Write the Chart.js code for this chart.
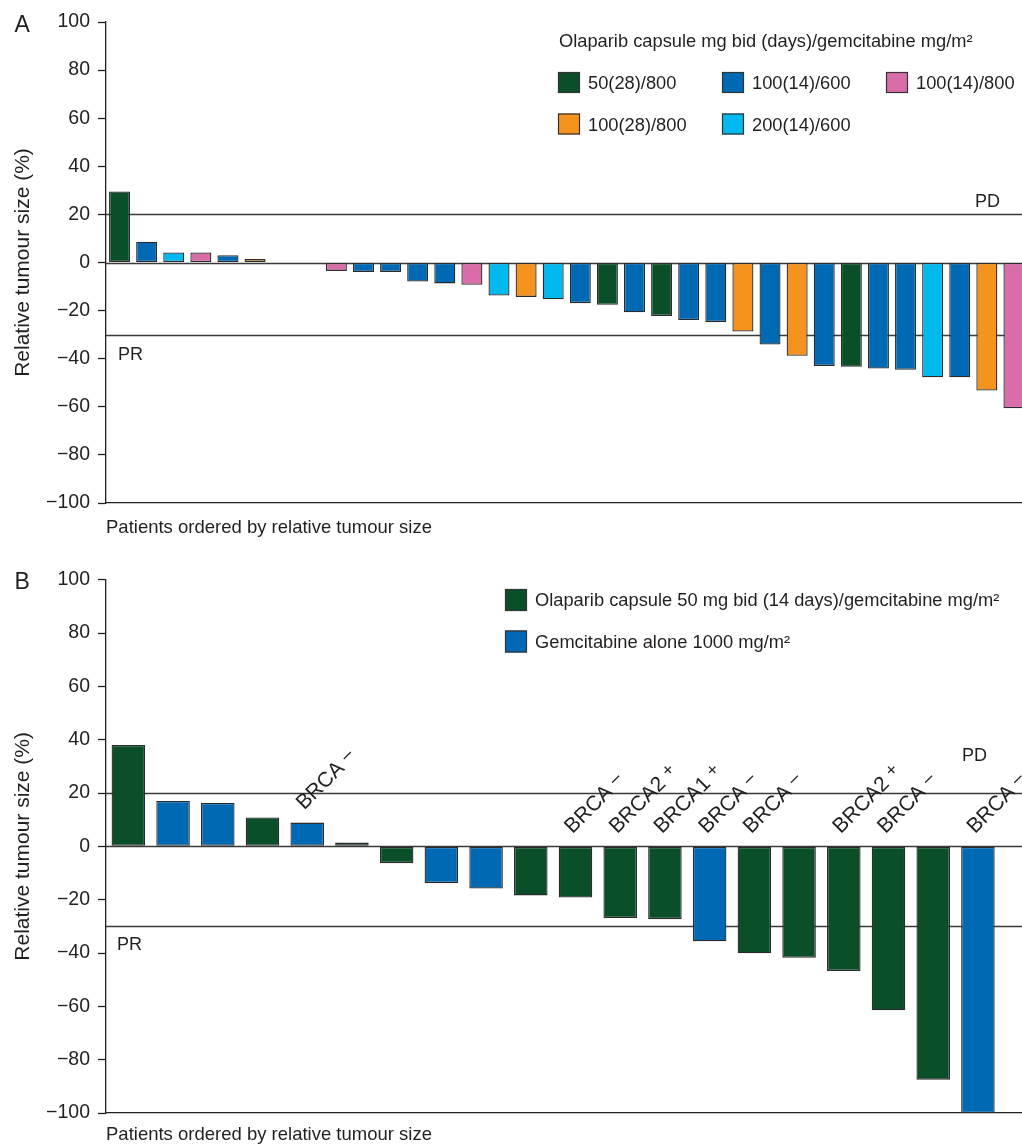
<!DOCTYPE html>
<html>
<head>
<meta charset="utf-8">
<script src="https://cdn.jsdelivr.net/npm/chart.js@4/dist/chart.umd.min.js"></script>
<style>
  html, body { margin: 0; padding: 0; background: #fff; overflow: hidden; }
  #wrap { position: relative; width: 1022px; height: 1146px; overflow: hidden; background: #fff; }
  canvas { position: absolute; left: 0; }
</style>
</head>
<body>
<div id="wrap">
  <canvas id="cA" width="1060" height="560" style="top:0px"></canvas>
  <canvas id="cB" width="1060" height="586" style="top:560px"></canvas>
</div>
<script>
// ---------------- DATA ----------------
// Panel A: relative tumour size (%) per patient, ordered; null = no visible bar
const valuesA = [29.5, 8.6, 4.2, 4.2, 3.0, 1.5, null, null, -3.5, -3.9, -3.9, -7.9, -8.7, -9.3,
  -13.7, -14.3, -15.3, -16.9, -17.6, -20.7, -22.2, -23.9, -24.8, -28.7, -34.1, -38.8, -43.0,
  -43.3, -44.1, -44.6, -47.7, -47.7, -53.2, -60.6];
const doseA = ['50(28)/800', '100(14)/600', '200(14)/600', '100(14)/800', '100(14)/600', '100(28)/800',
  null, null, '100(14)/800', '100(14)/600', '100(14)/600', '100(14)/600', '100(14)/600', '100(14)/800',
  '200(14)/600', '100(28)/800', '200(14)/600', '100(14)/600', '50(28)/800', '100(14)/600', '50(28)/800',
  '100(14)/600', '100(14)/600', '100(28)/800', '100(14)/600', '100(28)/800', '100(14)/600', '50(28)/800',
  '100(14)/600', '100(14)/600', '200(14)/600', '100(14)/600', '100(28)/800', '100(14)/800'];
const groupsA = ['50(28)/800', '100(14)/600', '100(14)/800', '100(28)/800', '200(14)/600'];
const colorsA = ['#0b4f29', '#0069b4', '#d96daa', '#f6931e', '#00b9ef'];
const legendTitleA = 'Olaparib capsule mg bid (days)/gemcitabine mg/m\u00B2';

// Panel B
const valuesB = [38.0, 17.0, 16.3, 10.8, 8.9, 1.4, -6.3, -13.8, -15.8, -18.4, -19.2, -26.9, -27.3,
  -35.6, -40.1, -41.8, -46.7, -61.5, -87.5, -100];
const treatB = ['ola', 'gem', 'gem', 'ola', 'gem', 'ola', 'ola', 'gem', 'gem', 'ola', 'ola', 'ola', 'ola',
  'gem', 'ola', 'ola', 'ola', 'ola', 'ola', 'gem'];
const brcaB = [null, null, null, null, 'BRCA \u2013', null, null, null, null, null, 'BRCA \u2013', 'BRCA2 +',
  'BRCA1 +', 'BRCA \u2013', 'BRCA \u2013', null, 'BRCA2 +', 'BRCA \u2013', null, 'BRCA \u2013'];
const groupsB = ['ola', 'gem'];
const groupNamesB = ['Olaparib capsule 50 mg bid (14 days)/gemcitabine mg/m\u00B2', 'Gemcitabine alone 1000 mg/m\u00B2'];
const colorsB = ['#0b4f29', '#0069b4'];

const yTicks = [-100, -80, -60, -40, -20, 0, 20, 40, 60, 80, 100];
const yTitle = 'Relative tumour size (%)';
const xTitle = 'Patients ordered by relative tumour size';
const pdValue = 20, prValue = -30;

// ---------------- STYLE ----------------
const FONT = '"Liberation Sans", Arial, Helvetica, sans-serif';
const TXT = '#231f20';
const AX = '#231f20';
Chart.defaults.font.family = FONT;
Chart.defaults.color = TXT;

function buildDatasets(values, groupOf, groups, colors) {
  return groups.map((g, gi) => ({
    label: g,
    data: values.map((v, i) => (groupOf[i] === g ? v : null)),
    backgroundColor: colors[gi],
    borderColor: '#2b2b2b',
    borderWidth: 1.3,
    borderSkipped: false,
    categoryPercentage: 1.0
  }));
}

const refLines = {
  id: 'refLines',
  beforeDatasetsDraw(chart, args, o) {
    const { ctx, chartArea: ca, scales: { y } } = chart;
    ctx.save();
    ctx.strokeStyle = '#3a3a3a';
    ctx.lineWidth = 1.3;
    [pdValue, 0, prValue].forEach(v => {
      const py = Math.round(y.getPixelForValue(v)) + 0.5;
      ctx.beginPath(); ctx.moveTo(ca.left, py); ctx.lineTo(ca.right, py); ctx.stroke();
    });
    ctx.fillStyle = TXT;
    ctx.font = '18px ' + FONT;
    ctx.textBaseline = 'alphabetic';
    ctx.textAlign = 'right';
    ctx.fillText('PD', o.pdX, y.getPixelForValue(pdValue) + o.pdDy);
    ctx.textAlign = 'left';
    ctx.fillText('PR', o.prX, y.getPixelForValue(prValue) + o.prDy);
    ctx.restore();
  },
  afterDraw(chart, args, o) {
    const { ctx } = chart;
    ctx.save();
    ctx.fillStyle = TXT;
    ctx.font = '23px ' + FONT;
    ctx.textBaseline = 'alphabetic';
    ctx.textAlign = 'left';
    ctx.fillText(o.letter, 14.5, o.letterY);
    ctx.restore();
  }
};

const legendA = {
  id: 'legendA',
  afterDraw(chart) {
    const { ctx } = chart;
    ctx.save();
    ctx.fillStyle = TXT;
    ctx.font = '18.3px ' + FONT;
    ctx.textBaseline = 'alphabetic';
    ctx.textAlign = 'left';
    ctx.fillText(legendTitleA, 559, 47);
    const cols = [558, 722, 886], rows = [72, 113.5];
    chart.data.datasets.forEach((ds, i) => {
      const bx = cols[i % 3], by = rows[Math.floor(i / 3)];
      ctx.fillStyle = ds.backgroundColor;
      ctx.fillRect(bx, by, 22, 21);
      ctx.strokeStyle = '#333'; ctx.lineWidth = 1.2;
      ctx.strokeRect(bx + 0.5, by + 0.5, 21, 20);
      ctx.fillStyle = TXT;
      ctx.fillText(ds.label, bx + 30, by + 17);
    });
    ctx.restore();
  }
};

const legendB = {
  id: 'legendB',
  afterDraw(chart) {
    const { ctx } = chart;
    ctx.save();
    ctx.font = '18.3px ' + FONT;
    ctx.textBaseline = 'alphabetic';
    ctx.textAlign = 'left';
    const rows = [29, 70.5];
    chart.data.datasets.forEach((ds, i) => {
      const bx = 505, by = rows[i];
      ctx.fillStyle = ds.backgroundColor;
      ctx.fillRect(bx, by, 22, 22);
      ctx.strokeStyle = '#333'; ctx.lineWidth = 1.2;
      ctx.strokeRect(bx + 0.5, by + 0.5, 21, 21);
      ctx.fillStyle = TXT;
      ctx.fillText(groupNamesB[i], 535, by + 17);
    });
    ctx.restore();
  }
};

const brcaLabels = {
  id: 'brcaLabels',
  afterDatasetsDraw(chart) {
    const { ctx, scales: { x, y } } = chart;
    ctx.save();
    ctx.fillStyle = TXT;
    ctx.textBaseline = 'alphabetic';
    ctx.textAlign = 'left';
    brcaB.forEach((lab, i) => {
      if (!lab) return;
      const [gene, sign] = lab.split(' ');
      const xc = x.getPixelForValue(i);
      const yt = y.getPixelForValue(Math.max(valuesB[i], 0));
      ctx.save();
      ctx.translate(xc - 3, yt - 12);
      ctx.rotate(-Math.PI / 4);
      ctx.font = '21px ' + FONT;
      ctx.fillText(gene, 0, 0);
      const w = ctx.measureText(gene).width;
      ctx.font = '18px ' + FONT;
      ctx.fillText(sign, w + 6, -4);
      ctx.restore();
    });
    ctx.restore();
  }
};

function makeOptions(cfg) {
  return {
    responsive: false,
    animation: false,
    devicePixelRatio: 1,
    layout: { padding: { left: 0, top: cfg.top, right: cfg.right, bottom: 0 } },
    plugins: {
      legend: { display: false },
      tooltip: { enabled: false },
      refLines: cfg.ref
    },
    datasets: { bar: { barPercentage: cfg.barPct, categoryPercentage: 1.0 } },
    scales: {
      x: {
        stacked: true,
        offset: true,
        grid: { display: false },
        ticks: { display: false },
        border: { display: true, color: AX, width: 1.3 },
        title: {
          display: true, text: xTitle, align: 'start',
          font: { size: 18.5, family: FONT }, color: TXT,
          padding: { top: 0, bottom: cfg.xTitlePad }
        },
        afterFit(s) { s.height = cfg.xHeight; }
      },
      y: {
        stacked: true,
        min: -100, max: 100,
        afterBuildTicks(s) { s.ticks = yTicks.map(v => ({ value: v })); },
        ticks: {
          font: { size: 19.5, family: FONT }, color: TXT, padding: 8,
          callback: v => String(v).replace('-', '\u2212')
        },
        grid: { display: true, drawOnChartArea: false, drawTicks: true, tickLength: 8, tickColor: AX, tickWidth: 1.3 },
        border: { display: true, color: AX, width: 1.3 },
        title: {
          display: true, text: yTitle,
          font: { size: 21, family: FONT }, color: TXT,
          padding: { top: 11, bottom: 0 }
        },
        afterFit(s) { s.width = 106; }
      }
    }
  };
}

// Panel A
const labelsA = valuesA.map((_, i) => String(i + 1));
new Chart(document.getElementById('cA'), {
  type: 'bar',
  data: { labels: labelsA, datasets: buildDatasets(valuesA, doseA, groupsA, colorsA) },
  options: makeOptions({
    top: 22, right: 32.5, barPct: 0.775, xHeight: 57, xTitlePad: 21,
    ref: { pdX: 1000, pdDy: -7, prX: 118, prDy: 25, letter: 'A', letterY: 32 }
  }),
  plugins: [refLines, legendA]
});

// Panel B (one trailing empty slot keeps the spacing of the original plot frame)
const labelsB = valuesB.map((_, i) => String(i + 1)).concat(['']);
new Chart(document.getElementById('cB'), {
  type: 'bar',
  data: { labels: labelsB, datasets: buildDatasets(valuesB, treatB, groupsB, colorsB) },
  options: makeOptions({
    top: 19, right: 15, barPct: 0.75, xHeight: 33, xTitlePad: 0,
    ref: { pdX: 987, pdDy: -32, prX: 117, prDy: 24, letter: 'B', letterY: 28.5 }
  }),
  plugins: [refLines, legendB, brcaLabels]
});
</script>
</body>
</html>
